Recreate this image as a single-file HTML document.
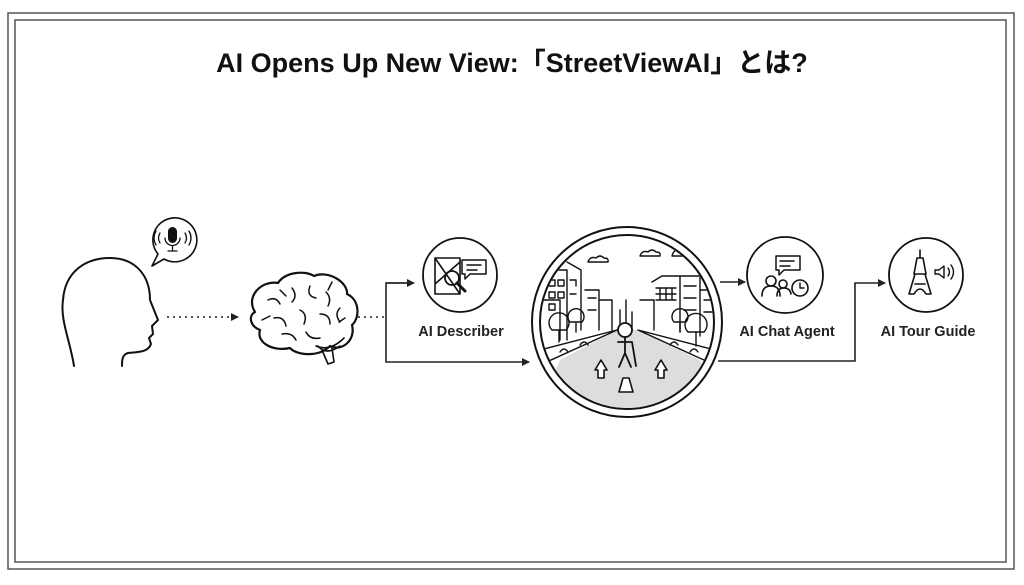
<!DOCTYPE html>
<html><head><meta charset="utf-8"><style>
html,body{margin:0;padding:0;background:#fff;}
svg{display:block}
text{font-family:"Liberation Sans","Noto Sans CJK JP",sans-serif;}
</style></head><body>
<svg width="1024" height="585" viewBox="0 0 1024 585" xmlns="http://www.w3.org/2000/svg">
<defs>
<marker id="ah" markerWidth="8" markerHeight="8" refX="7" refY="4" orient="auto" markerUnits="userSpaceOnUse"><path d="M0,0 L8,4 L0,8z" fill="#222"/></marker>
<clipPath id="cc"><circle cx="627" cy="322" r="86"/></clipPath>
</defs>
<rect x="8" y="13" width="1006" height="556" fill="none" stroke="#555" stroke-width="1.5"/>
<rect x="15" y="20" width="991" height="542" fill="none" stroke="#555" stroke-width="1.5"/>
<text x="512" y="72" text-anchor="middle" font-size="27" font-weight="bold" fill="#111">AI Opens Up New View:「StreetViewAI」とは?</text>

<g fill="none" stroke="#111" stroke-width="2" stroke-linecap="round" stroke-linejoin="round">
<!-- head -->
<path d="M74,366 C70,340 60,320 63,300 C65,272 85,258 110,258 C135,258 150,275 150,300 L158,320 L152,326 L153,334 L149,338 L151,344 C148,352 140,352 128,353 C122,355 122,360 122,366"/>
<!-- bubble -->
<path d="M158,254 L152,266 L164,259 A22,22 0 1 0 158,254z" stroke-width="1.6"/>
<rect x="169" y="228" width="7" height="14" rx="3.5" fill="#111"/>
<path d="M165,238 a7.5,7.5 0 0 0 15,0 M172.5,246 v5 M168,251 h9" stroke-width="1.3"/>
<path d="M160,233 q-3,5 0,10 M185,233 q3,5 0,10 M156,231 q-4,7 0,14 M189,231 q4,7 0,14" stroke-width="1.3"/>
<!-- brain -->
<path d="M255,312 C245,296 262,280 278,283 C285,272 305,270 314,276 C328,270 348,282 347,294 C360,300 360,318 352,325 C356,340 342,352 330,346 C318,358 296,355 290,348 C272,352 256,342 260,330 C250,326 248,316 255,312z" stroke-width="2.2"/>
<path d="M268,300 q8,-4 12,4 M292,288 q6,8 0,14 M310,286 q-4,10 6,12 M326,292 q6,6 2,14 M274,318 q10,-2 12,8 M300,310 q8,4 4,14 M320,314 q10,0 10,10 M340,308 q-6,6 0,14 M282,334 q10,-2 14,6 M306,332 q4,8 14,6 M280,290 l6,6 M332,282 l-4,8 M262,320 l8,-4 M345,318 l-6,4" stroke-width="1.5"/>
<path d="M316,346 q14,6 28,-8 M318,346 q8,10 22,0 M322,350 l6,14 l6,-2 l-2,-14" stroke-width="1.6"/>
<!-- circles -->
<circle cx="460" cy="275" r="37" stroke-width="1.8"/>
<circle cx="785" cy="275" r="38" stroke-width="1.8"/>
<circle cx="926" cy="275" r="37" stroke-width="1.8"/>
<circle cx="627" cy="322" r="95" stroke-width="2"/>
<circle cx="627" cy="322" r="87" stroke-width="2"/>
<!-- describer icon -->
<path d="M435,258 l25,0 l0,36 l-25,0z M435,258 l25,36 M460,262 l-25,22" stroke-width="1.6"/>
<circle cx="452" cy="278" r="7" stroke-width="1.8"/>
<path d="M457,283 l8,8" stroke-width="3"/>
<path d="M462,260 h24 v14 h-16 l-5,5 v-5 h-3z M467,265 h14 M467,270 h10" stroke-width="1.5"/>
<!-- chat agent icon -->
<path d="M776,256 h24 v14 h-16 l-5,5 v-5 h-3z M780,261 h14 M780,266 h10" stroke-width="1.5"/>
<circle cx="771" cy="281" r="5" stroke-width="1.6"/><path d="M762,296 q0,-10 9,-10 q9,0 9,10" stroke-width="1.6"/>
<circle cx="783" cy="284" r="4" stroke-width="1.6"/><path d="M777,296 q0,-8 7,-8 q6,0 7,6" stroke-width="1.6"/>
<circle cx="800" cy="288" r="8" stroke-width="1.6"/><path d="M800,283 v5 h4" stroke-width="1.4"/>
<!-- tour guide -->
<path d="M920,250 v8 M917,258 h6 l3,16 h-12z M914,274 h12 M915,274 l-6,20 M925,274 l6,20 M909,294 h5 q6,-10 12,0 h5 M915,284 h10" stroke-width="1.6"/>
<path d="M935,270 h4 l5,-4 v12 l-5,-4 h-4z M948,268 q3,4 0,8 M951,265 q5,7 0,14" stroke-width="1.4"/>
</g>
<!-- street scene -->
<g clip-path="url(#cc)" fill="none" stroke="#111" stroke-linecap="round" stroke-linejoin="round" stroke-width="1.4">
<path d="M560,360 L617,330 L638,330 L700,360 L720,420 L535,420z" fill="#ddd" stroke="none"/>
<path d="M540,300 h20 v40 M545,270 h22 v70 M567,262 l14,8 v60 M585,290 h14 v40 M600,300 h12 v30 M640,300 h14 v30 M652,282 l10,-6 h18 v56 M680,276 h20 v60 M700,290 h20 v50"/>
<path d="M549,280 h6 v6 h-6z M558,280 h6 v6 h-6z M549,292 h6 v6 h-6z M558,292 h6 v6 h-6z M549,304 h6 v6 h-6z M570,280 h6 v6 M570,294 h6 M588,298 h8 M588,310 h8 M656,288 h20 M656,294 h20 M656,300 h20 M660,288 v12 M666,288 v12 M672,288 v12 M684,286 h12 M684,298 h12 M684,310 h12 M704,300 h10 M704,312 h10 M620,310 v20 M626,300 v30 M632,312 v18"/>
<path d="M540,350 l77,-20 M715,350 l-77,-20 M540,365 l77,-35 M715,365 l-77,-35"/>
<path d="M588,262 q2,-6 8,-4 q4,-4 8,0 q5,0 4,4z M640,256 q2,-6 8,-4 q4,-4 8,0 q5,0 4,4z M672,256 q2,-8 10,-6 q6,-6 12,0 q6,0 5,6z"/>
<path d="M552,330 a10,10 0 1 1 14,0z M559,330 v12 M570,322 a8,8 0 1 1 12,0z M576,322 v10 M674,322 a8,8 0 1 1 12,0z M680,322 v10 M688,332 a11,11 0 1 1 16,0z M696,332 v14"/>
<path d="M560,352 q4,-6 8,0 M580,345 q4,-6 8,0 M670,345 q4,-6 8,0 M690,352 q4,-6 8,0"/>
</g>
<g fill="none" stroke="#111" stroke-linecap="round" stroke-linejoin="round">
<circle cx="625" cy="330" r="7" stroke-width="1.8" fill="#fff"/>
<path d="M625,337 v16 l-6,14 M625,353 l6,14 M618,342 l14,0 M632,342 l4,24" stroke-width="1.8"/>
<path d="M595,370 l6,-10 l6,10 h-3 v8 h-6 v-8z M655,370 l6,-10 l6,10 h-3 v8 h-6 v-8z M619,392 l4,-14 h6 l4,14z" stroke-width="1.6" fill="#fff"/>
</g>

<g stroke="#222" fill="none" stroke-width="1.6">
<path d="M167,317 H238" stroke-dasharray="2,4" marker-end="url(#ah)"/>
<path d="M358,317 H386" stroke-dasharray="2,4"/>
<path d="M410,283 H386 V362 H529" marker-end="url(#ah)"/>
<path d="M386,283 H414" marker-end="url(#ah)"/>
<path d="M720,282 H745" marker-end="url(#ah)"/>
<path d="M718,361 H855 V283 H885" marker-end="url(#ah)"/>
</g>
<g font-size="14.5" font-weight="bold" fill="#222" text-anchor="middle">
<text x="461" y="336">AI Describer</text>
<text x="787" y="336">AI Chat Agent</text>
<text x="928" y="336">AI Tour Guide</text>
</g>
</svg>
</body></html>
